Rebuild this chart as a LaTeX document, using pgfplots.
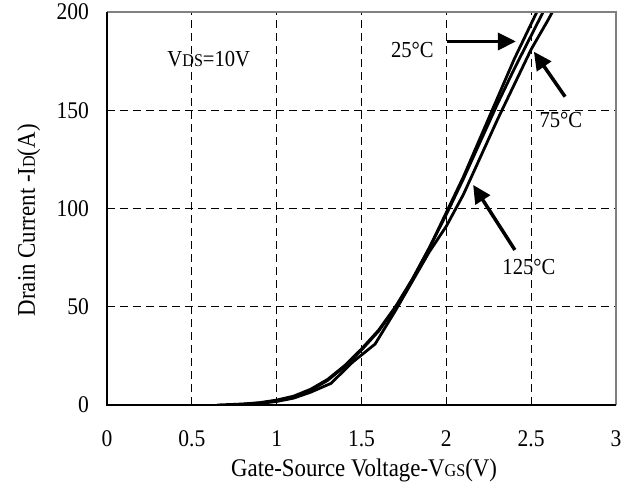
\documentclass[border=0pt]{standalone}
\usepackage{fontspec}
\setmainfont{Liberation Serif}[FakeStretch=0.9]
\usepackage{pgfplots}
\pgfplotsset{compat=1.18}
\usetikzlibrary{arrows.meta}
\newcommand{\sub}[1]{{\fontsize{18}{18}\selectfont #1}}
\begin{document}
\begin{tikzpicture}
\begin{axis}[
  name=ax,
  scale only axis, width=509bp, height=393bp,
  xmin=0, xmax=3, ymin=0, ymax=200,
  xtick={0,0.5,1,1.5,2,2.5,3}, ytick={0,50,100,150,200},
  grid=major,
  major grid style={black, line width=0.7bp, dash pattern=on 8bp off 5bp},
  major tick length=0pt,
  axis line style={draw=none},
  tick label style={font=\fontsize{24}{26}\selectfont},
  /pgf/number format/assume math mode=true,
  yticklabel style={xshift=-14.5bp},
  xticklabel style={yshift=-22bp},
  xlabel={Gate-Source Voltage-V\sub{GS}(V)},
  ylabel={Drain Current -I\sub{D}(A)},
  label style={font=\fontsize{25.5}{27}\selectfont},
  xlabel style={at={(axis description cs:0.505,-0.1832)}, anchor=base},
  ylabel style={at={(axis description cs:-0.1415,0.47)}, anchor=base},
  clip=true,
]
\addplot[black, line width=2.8bp] coordinates {
(0.65,0) (0.8,0.5) (0.9,1.2) (1.0,2.5) (1.1,4.5) (1.2,8) (1.3,13) (1.4,20) (1.5,28.5) (1.6,38) (1.7,50) (1.8,64) (1.9,80) (2.0,98) (2.1,116) (2.2,136) (2.3,156) (2.4,176) (2.5,194) (2.55,203)
};
\addplot[black, line width=2.8bp] coordinates {
(0.7,0) (0.8,0.4) (0.9,1) (1.0,2.2) (1.1,4) (1.2,7.5) (1.3,12.5) (1.4,19.5) (1.5,28) (1.6,37.5) (1.7,49.5) (1.8,64) (1.9,80) (2.0,97) (2.1,115) (2.2,134) (2.3,153) (2.4,171) (2.5,188) (2.6,205)
};
\addplot[black, line width=2.8bp] coordinates {
(0.75,0) (0.9,0.8) (1.0,1.8) (1.1,3.5) (1.2,6.5) (1.32,11) (1.45,22) (1.58,31) (1.7,48) (1.8,63) (1.9,78) (2.0,91) (2.1,107) (2.2,126) (2.3,145) (2.4,163) (2.5,181) (2.6,196) (2.65,204)
};
\node[font=\fontsize{23}{25}\selectfont] at (axis cs:0.60,176) {V\sub{DS}=10V};
\node[font=\fontsize{23}{25}\selectfont] at (axis cs:1.80,180.7) {25°C};
\node[font=\fontsize{23}{25}\selectfont] at (axis cs:2.675,145) {75°C};
\node[font=\fontsize{23}{25}\selectfont] at (axis cs:2.487,70.4) {125°C};
\draw[line width=3.5bp, -{Triangle[length=18bp,width=17bp]}] (axis cs:2.003,185) -- (axis cs:2.41,185);
\draw[line width=3.5bp, -{Triangle[length=18bp,width=17bp]}] (axis cs:2.70,156.9) -- (axis cs:2.516,179.8);
\draw[line width=3.5bp, -{Triangle[length=18bp,width=17bp]}] (axis cs:2.404,78.9) -- (axis cs:2.158,112);
\end{axis}
\draw[gray, line width=1.5bp] (ax.north west) -- (ax.north east) -- (ax.south east);
\draw[black, line width=1.5bp] (ax.north west) -- (ax.south west) -- (ax.south east);
\pgfresetboundingbox
\path (-107bp,-81bp) rectangle (525bp,405bp);
\end{tikzpicture}
\end{document}
